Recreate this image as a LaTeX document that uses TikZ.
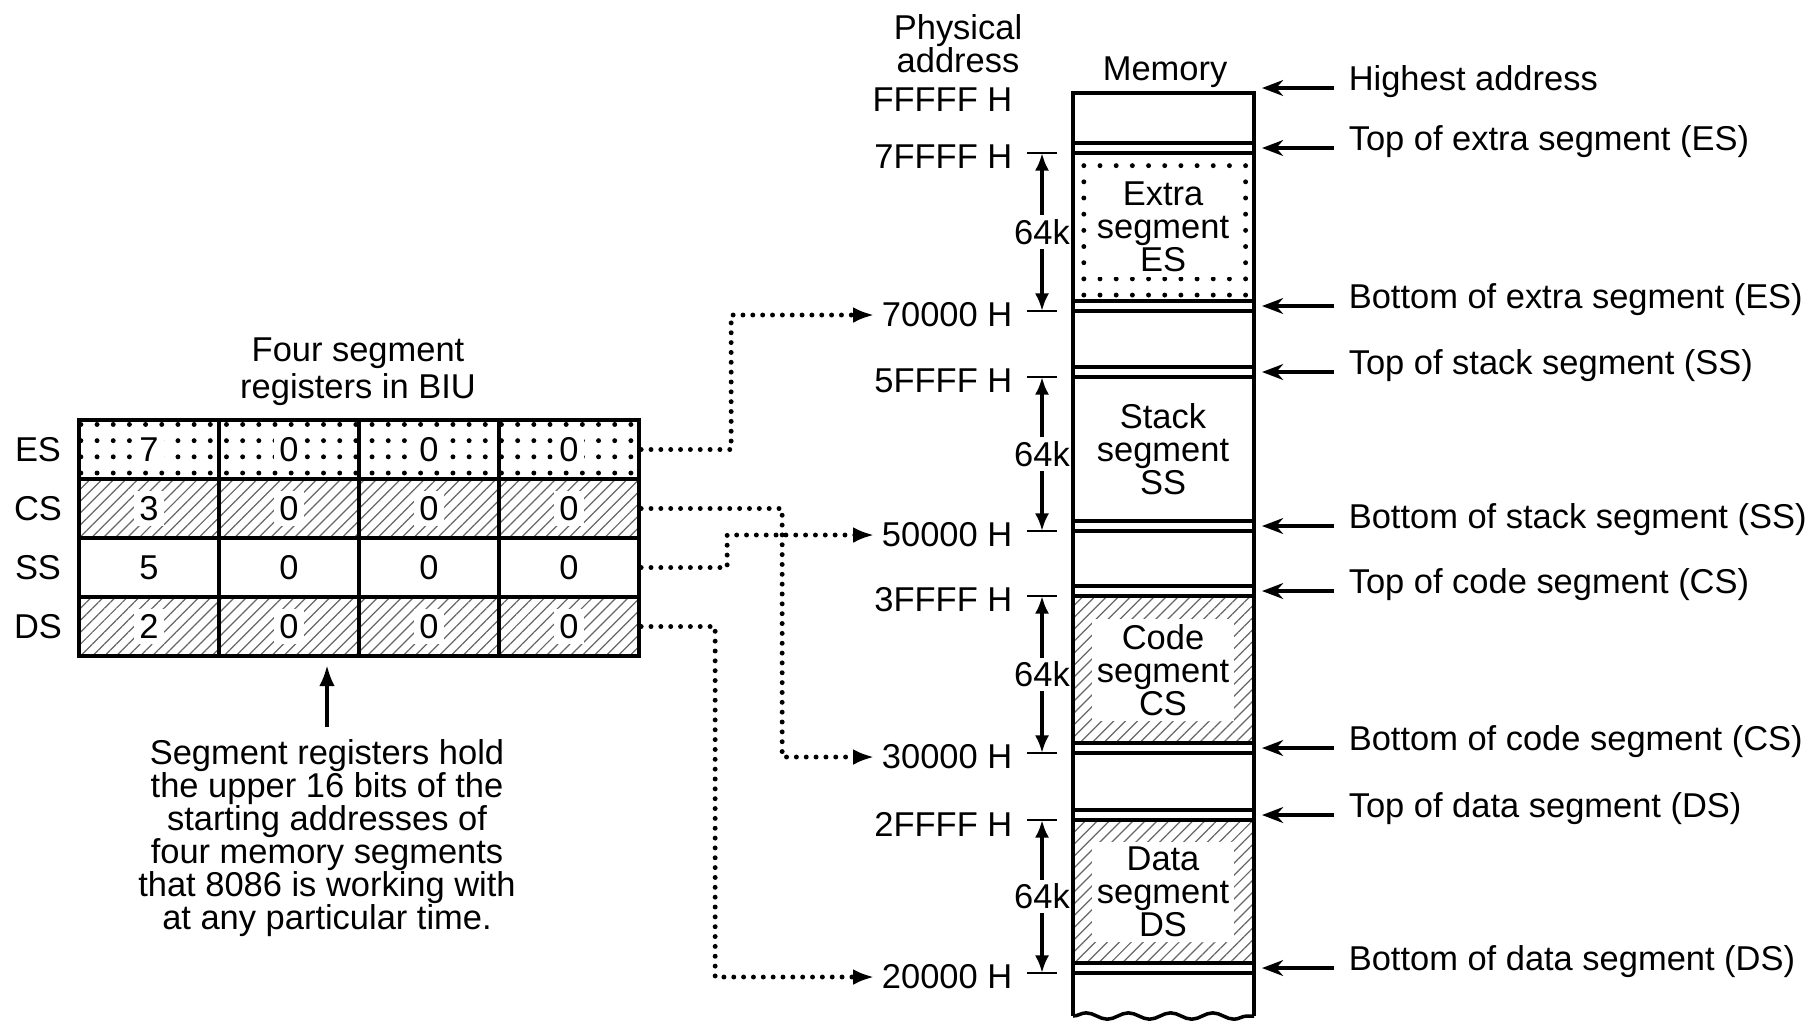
\documentclass[tikz,border=0pt]{standalone}
\usepackage{fontspec}
\setmainfont{Liberation Sans}
\usepackage{tikz}
\usetikzlibrary{arrows.meta,positioning,patterns.meta,decorations.pathmorphing,calc}

\begin{document}
\begin{tikzpicture}[
    x=0.01cm, y=-0.01cm,
    font=\fontsize{9.8}{9.4}\selectfont,
    regcell/.style={rectangle, draw, line width=1.2pt, minimum width=1.4cm, minimum height=0.59cm, inner sep=0pt},
    dotfill/.style={pattern={Dots[distance=4.6pt, radius=0.7pt]}, pattern color=black},
    hatchfill/.style={pattern={Lines[angle=45, distance=2.4pt, line width=0.35pt]}, pattern color=black!60},
    plainfill/.style={fill=white},
    digit/.style={fill=white, inner sep=1.5pt},
    addr/.style={anchor=east, inner sep=2pt},
    seg/.style={align=center, fill=white, inner sep=1.5pt},
    side/.style={anchor=base west, inner ysep=1pt, inner xsep=4pt},
    kay/.style={inner sep=1pt},
    dimarrow/.style={-{Latex[length=5pt, width=4pt]}, line width=1pt},
    sidearrow/.style={-{Stealth[length=6pt, width=4.5pt]}, line width=1pt},
    ptrarrow/.style={-{Latex[length=6pt, width=4.5pt]}, line width=1.1pt},
    regline/.style={-{Latex[length=6pt, width=4.5pt]}, line width=1.4pt, line cap=round, dash pattern=on 0pt off 2.8pt},
    segline/.style={line width=1pt},
    tick/.style={line width=0.7pt}
]
\useasboundingbox (0,0) rectangle (1819,1023);

% Segment registers in the BIU
\node[align=center, font=\fontsize{9.8}{10.6}\selectfont] (title) at (358,372) {Four segment\\registers in BIU};
\foreach \rw/\fs/\lead [count=\i] in {ES/dotfill/7, CS/hatchfill/3, SS/plainfill/5, DS/hatchfill/2} {
  \node (n\rw) at (38,{390.5+59*\i}) {\rw};
  \foreach \c in {1,...,4}
    \node[regcell, \fs, label={[digit]center:\ifnum\c=1 \lead\else 0\fi}] (\rw\c) at ({9+140*\c},{390.5+59*\i}) {};
}

% Note below the registers
\node[align=center] (note) at (327,838) {Segment registers hold\\the upper 16 bits of the\\starting addresses of\\four memory segments\\that 8086 is working with\\at any particular time.};
\coordinate (ptr) at (327,665);
\draw[ptrarrow] (note) -- (ptr);

% Memory map
\node (memlbl) at (1165,72) {Memory};
\fill[dotfill] (1073,153) rectangle (1254,301);
\fill[hatchfill] (1073,596) rectangle (1254,743);
\fill[hatchfill] (1073,820) rectangle (1254,963);
\foreach \y in {143,153,301,311,367,377,521,531,586,596,743,753,810,820,963,973}
  \draw[segline] (1073,\y) -- (1254,\y);
\draw[line width=1.3pt] (1073,1016) |- (1254,93) -- (1254,1016);
\draw[line width=1pt, decorate, decoration={snake, amplitude=0.9pt, segment length=12pt}] (1073,1016) -- (1254,1016);

\node[seg] (es) at (1163,227) {Extra\\segment\\ES};
\node[seg] (ss) at (1163,449) {Stack\\segment\\SS};
\node[seg] (cs) at (1163,670) {Code\\segment\\CS};
\node[seg] (ds) at (1163,892) {Data\\segment\\DS};

% Physical addresses
\node[align=center] (phys) at (958,44) {Physical\\address};
\foreach \nm/\y in {FFFFF/100, 7FFFF/157, 70000/315, 5FFFF/381, 50000/535, 3FFFF/600, 30000/757, 2FFFF/824, 20000/977}
  \node[addr] (a\nm) at (1020,\y) {\nm\ H};

% 64k spans
\foreach \t/\b [count=\k] in {153/311, 377/531, 596/753, 820/973} {
  \coordinate (top\k) at (1042,\t);
  \coordinate (bot\k) at (1042,\b);
  \node[kay] (k\k) at (1042,{(\t+\b)/2}) {64k};
  \draw[dimarrow] (k\k) -- (top\k);
  \draw[dimarrow] (k\k) -- (bot\k);
  \draw[tick] (1027,\t) -- (1057,\t);
  \draw[tick] (1027,\b) -- (1057,\b);
}

% Register contents point to segment starts
\draw[regline] (ES4.east) -- ++(90,0) |- (a70000.west);
\draw[regline] (CS4.east) -- ++(141,0) |- (a30000.west);
\draw[regline] (SS4.east) -- ++(86,0) |- (a50000.west);
\draw[regline] (DS4.east) -- ++(74,0) |- (a20000.west);

% Segment limits
\foreach \y/\txt [count=\j] in {88/Highest address, 148/Top of extra segment (ES), 306/Bottom of extra segment (ES), 372/Top of stack segment (SS), 526/Bottom of stack segment (SS), 591/Top of code segment (CS), 748/Bottom of code segment (CS), 815/Top of data segment (DS), 968/Bottom of data segment (DS)} {
  \coordinate (m\j) at (1262,\y);
  \node[side] (s\j) at (1334,\y+2) {\txt};
  \draw[sidearrow] (s\j.west |- m\j) -- (m\j);
}

\end{tikzpicture}
\end{document}
